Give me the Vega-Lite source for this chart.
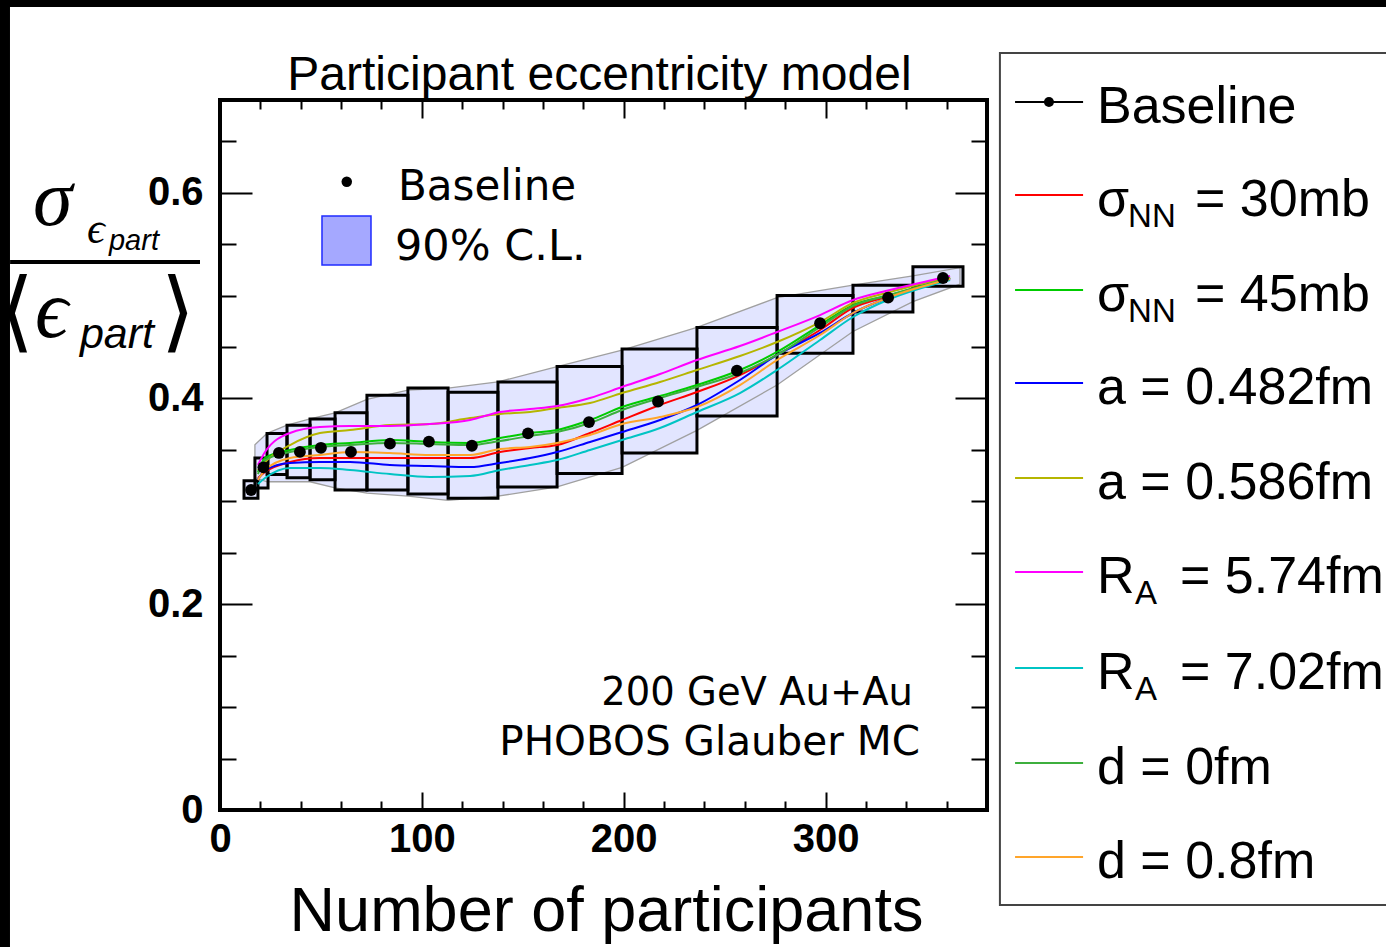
{
"$schema": "https://vega.github.io/schema/vega-lite/v6.json",
"width": 767, "height": 710,
"autosize": {"type": "none"},
"padding": {"left": 220, "top": 100, "right": 399, "bottom": 137},
"background": "white",
"config": {
  "view": {"stroke": "black", "strokeWidth": 4},
  "axis": {"domain": false, "grid": false, "tickColor": "black", "tickWidth": 2, "labelColor": "black", "labelFont": "Liberation Sans", "labelFontWeight": "bold", "labelFontSize": 40, "labelFlush": false, "labelOverlap": false, "titleColor": "black", "zindex": 1}
},
"datasets": {
  "one": [{}],
  "points": [
    {"npart": 15.4, "ratio": 0.311}, {"npart": 21.5, "ratio": 0.333}, {"npart": 29.2, "ratio": 0.347}, {"npart": 39.6, "ratio": 0.348},
    {"npart": 50.0, "ratio": 0.352}, {"npart": 64.9, "ratio": 0.348}, {"npart": 84.2, "ratio": 0.356}, {"npart": 103.5, "ratio": 0.358},
    {"npart": 124.8, "ratio": 0.354}, {"npart": 152.6, "ratio": 0.366}, {"npart": 182.8, "ratio": 0.377}, {"npart": 217.0, "ratio": 0.397},
    {"npart": 256.1, "ratio": 0.427}, {"npart": 297.3, "ratio": 0.473}, {"npart": 331.0, "ratio": 0.498}, {"npart": 358.2, "ratio": 0.517}
  ],
  "boxes": [
    {"n1": 11.9, "n2": 18.8, "lo": 0.303, "hi": 0.320}, {"n1": 17.3, "n2": 23.8, "lo": 0.313, "hi": 0.342},
    {"n1": 23.3, "n2": 33.2, "lo": 0.326, "hi": 0.366}, {"n1": 33.2, "n2": 44.6, "lo": 0.323, "hi": 0.374},
    {"n1": 44.6, "n2": 57.0, "lo": 0.321, "hi": 0.380}, {"n1": 57.0, "n2": 72.8, "lo": 0.311, "hi": 0.386},
    {"n1": 72.8, "n2": 93.1, "lo": 0.311, "hi": 0.403}, {"n1": 93.1, "n2": 113.0, "lo": 0.307, "hi": 0.410},
    {"n1": 113.0, "n2": 137.7, "lo": 0.303, "hi": 0.406}, {"n1": 137.7, "n2": 167.0, "lo": 0.314, "hi": 0.416},
    {"n1": 167.0, "n2": 199.2, "lo": 0.327, "hi": 0.431}, {"n1": 199.2, "n2": 236.3, "lo": 0.347, "hi": 0.448},
    {"n1": 236.3, "n2": 276.0, "lo": 0.383, "hi": 0.469}, {"n1": 276.0, "n2": 313.6, "lo": 0.444, "hi": 0.500},
    {"n1": 313.6, "n2": 343.3, "lo": 0.484, "hi": 0.510}, {"n1": 343.3, "n2": 368.1, "lo": 0.509, "hi": 0.528}
  ],
  "band": [
    {"npart": 17.3, "lo": 0.323, "hi": 0.355}, {"npart": 23.3, "lo": 0.319, "hi": 0.366}, {"npart": 33.2, "lo": 0.319, "hi": 0.374},
    {"npart": 44.6, "lo": 0.319, "hi": 0.380}, {"npart": 57.0, "lo": 0.313, "hi": 0.386}, {"npart": 72.8, "lo": 0.308, "hi": 0.399},
    {"npart": 93.1, "lo": 0.305, "hi": 0.408}, {"npart": 113.0, "lo": 0.301, "hi": 0.410}, {"npart": 137.7, "lo": 0.305, "hi": 0.416},
    {"npart": 167.0, "lo": 0.314, "hi": 0.431}, {"npart": 199.2, "lo": 0.333, "hi": 0.447}, {"npart": 236.3, "lo": 0.369, "hi": 0.469},
    {"npart": 276.0, "lo": 0.413, "hi": 0.498}, {"npart": 313.6, "lo": 0.465, "hi": 0.510}, {"npart": 343.3, "lo": 0.494, "hi": 0.519},
    {"npart": 366.6, "lo": 0.511, "hi": 0.527}
  ],
  "models": [
    {"npart": 18.8, "sigma30": 0.3226, "sigma45": 0.3285, "a482": 0.3207, "a586": 0.3304, "RA574": 0.3353, "RA702": 0.3168, "d0": 0.3265, "d08": 0.3207},
    {"npart": 22.3, "sigma30": 0.3285, "sigma45": 0.3421, "a482": 0.3304, "a586": 0.3382, "RA574": 0.3479, "RA702": 0.3226, "d0": 0.3401, "d08": 0.3304},
    {"npart": 34.7, "sigma30": 0.3382, "sigma45": 0.3499, "a482": 0.3372, "a586": 0.3547, "RA574": 0.3664, "RA702": 0.3324, "d0": 0.3479, "d08": 0.3421},
    {"npart": 49.5, "sigma30": 0.3421, "sigma45": 0.3547, "a482": 0.3382, "a586": 0.3664, "RA574": 0.3722, "RA702": 0.3324, "d0": 0.3528, "d08": 0.3450},
    {"npart": 64.4, "sigma30": 0.3421, "sigma45": 0.3567, "a482": 0.3382, "a586": 0.3693, "RA574": 0.3732, "RA702": 0.3304, "d0": 0.3547, "d08": 0.3479},
    {"npart": 84.2, "sigma30": 0.3421, "sigma45": 0.3596, "a482": 0.3353, "a586": 0.3741, "RA574": 0.3732, "RA702": 0.3265, "d0": 0.3567, "d08": 0.3469},
    {"npart": 104.0, "sigma30": 0.3421, "sigma45": 0.3576, "a482": 0.3343, "a586": 0.3751, "RA574": 0.3751, "RA702": 0.3236, "d0": 0.3557, "d08": 0.3450},
    {"npart": 123.9, "sigma30": 0.3421, "sigma45": 0.3567, "a482": 0.3333, "a586": 0.3809, "RA574": 0.3790, "RA702": 0.3246, "d0": 0.3547, "d08": 0.3450},
    {"npart": 138.7, "sigma30": 0.3479, "sigma45": 0.3615, "a482": 0.3372, "a586": 0.3848, "RA574": 0.3868, "RA702": 0.3304, "d0": 0.3586, "d08": 0.3508},
    {"npart": 153.6, "sigma30": 0.3518, "sigma45": 0.3664, "a482": 0.3421, "a586": 0.3868, "RA574": 0.3897, "RA702": 0.3353, "d0": 0.3635, "d08": 0.3528},
    {"npart": 167.0, "sigma30": 0.3547, "sigma45": 0.3693, "a482": 0.3479, "a586": 0.3907, "RA574": 0.3926, "RA702": 0.3401, "d0": 0.3673, "d08": 0.3567},
    {"npart": 183.3, "sigma30": 0.3664, "sigma45": 0.3790, "a482": 0.3576, "a586": 0.3955, "RA574": 0.4004, "RA702": 0.3499, "d0": 0.3761, "d08": 0.3644},
    {"npart": 199.2, "sigma30": 0.3790, "sigma45": 0.3916, "a482": 0.3673, "a586": 0.4052, "RA574": 0.4111, "RA702": 0.3596, "d0": 0.3887, "d08": 0.3751},
    {"npart": 218.0, "sigma30": 0.3936, "sigma45": 0.4023, "a482": 0.3790, "a586": 0.4159, "RA574": 0.4237, "RA702": 0.3712, "d0": 0.4004, "d08": 0.3819},
    {"npart": 236.3, "sigma30": 0.4062, "sigma45": 0.4130, "a482": 0.3936, "a586": 0.4276, "RA574": 0.4373, "RA702": 0.3868, "d0": 0.4111, "d08": 0.3916},
    {"npart": 257.6, "sigma30": 0.4227, "sigma45": 0.4276, "a482": 0.4179, "a586": 0.4412, "RA574": 0.4509, "RA702": 0.4052, "d0": 0.4247, "d08": 0.4130},
    {"npart": 276.0, "sigma30": 0.4422, "sigma45": 0.4451, "a482": 0.4422, "a586": 0.4548, "RA574": 0.4645, "RA702": 0.4276, "d0": 0.4422, "d08": 0.4373},
    {"npart": 297.3, "sigma30": 0.4665, "sigma45": 0.4713, "a482": 0.4636, "a586": 0.4742, "RA574": 0.4810, "RA702": 0.4568, "d0": 0.4694, "d08": 0.4616},
    {"npart": 313.6, "sigma30": 0.4879, "sigma45": 0.4907, "a482": 0.4830, "a586": 0.4927, "RA574": 0.4956, "RA702": 0.4791, "d0": 0.4898, "d08": 0.4830},
    {"npart": 331.9, "sigma30": 0.4995, "sigma45": 0.5005, "a482": 0.4985, "a586": 0.5034, "RA574": 0.5053, "RA702": 0.4966, "d0": 0.5005, "d08": 0.4985},
    {"npart": 361.7, "sigma30": 0.5170, "sigma45": 0.5170, "a482": 0.5160, "a586": 0.5180, "RA574": 0.5190, "RA702": 0.5151, "d0": 0.5170, "d08": 0.5160}
  ]
},
"resolve": {"axis": {"x": "independent", "y": "independent"}},
"layer": [
  {"data": {"name": "band"}, "mark": {"type": "area", "color": "#e2e5ff", "opacity": 1},
   "encoding": {
     "x": {"field": "npart", "type": "quantitative", "scale": {"domain": [0, 380], "nice": false, "zero": false},
           "axis": {"orient": "bottom", "values": [0, 100, 200, 300], "tickSize": -18, "labelPadding": 27, "format": "d",
                    "title": "Number of participants", "titleFont": "Liberation Sans", "titleFontSize": 63, "titleFontWeight": "normal",
                    "titleBaseline": "alphabetic", "titleY": 120, "titleX": 386, "titleAlign": "center"}},
     "y": {"field": "hi", "type": "quantitative", "scale": {"domain": [0, 0.69], "nice": false, "zero": false},
           "axis": {"orient": "left", "values": [0, 0.2, 0.4, 0.6], "tickSize": -32, "labelPadding": 49, "format": ".1~f", "title": null}},
     "y2": {"field": "lo"}}},
  {"data": {"name": "boxes"}, "mark": {"type": "rect", "color": "#e2e5ff", "opacity": 1},
   "encoding": {
     "x": {"field": "n1", "type": "quantitative", "scale": {"domain": [0, 380], "nice": false, "zero": false},
           "axis": {"orient": "bottom", "values": [20, 40, 60, 80, 120, 140, 160, 180, 220, 240, 260, 280, 320, 340, 360], "tickSize": -9, "labels": false, "title": null}},
     "x2": {"field": "n2"},
     "y": {"field": "hi", "type": "quantitative", "scale": {"domain": [0, 0.69], "nice": false, "zero": false},
           "axis": {"orient": "left", "values": [0.05, 0.1, 0.15, 0.25, 0.3, 0.35, 0.45, 0.5, 0.55, 0.65], "tickSize": -16, "labels": false, "title": null}},
     "y2": {"field": "lo"}}},
  {"data": {"name": "band"}, "mark": {"type": "area", "fillOpacity": 0, "stroke": "#a0a0a0", "strokeWidth": 1.3},
   "encoding": {
     "x": {"field": "npart", "type": "quantitative", "scale": {"domain": [0, 380], "nice": false, "zero": false},
           "axis": {"orient": "top", "values": [0, 100, 200, 300], "tickSize": -18, "labels": false, "title": null}},
     "y": {"field": "hi", "type": "quantitative", "scale": {"domain": [0, 0.69], "nice": false, "zero": false},
           "axis": {"orient": "right", "values": [0, 0.2, 0.4, 0.6], "tickSize": -32, "labels": false, "title": null}},
     "y2": {"field": "lo"}}},
  {"data": {"name": "boxes"}, "mark": {"type": "rect", "fillOpacity": 0, "stroke": "black", "strokeWidth": 3},
   "encoding": {
     "x": {"field": "n1", "type": "quantitative", "scale": {"domain": [0, 380], "nice": false, "zero": false},
           "axis": {"orient": "top", "values": [20, 40, 60, 80, 120, 140, 160, 180, 220, 240, 260, 280, 320, 340, 360], "tickSize": -9, "labels": false, "title": null}},
     "x2": {"field": "n2"},
     "y": {"field": "hi", "type": "quantitative", "scale": {"domain": [0, 0.69], "nice": false, "zero": false},
           "axis": {"orient": "right", "values": [0.05, 0.1, 0.15, 0.25, 0.3, 0.35, 0.45, 0.5, 0.55, 0.65], "tickSize": -16, "labels": false, "title": null}},
     "y2": {"field": "lo"}}},
  {"data": {"name": "models"},
   "transform": [{"fold": ["sigma30", "sigma45", "a482", "a586", "RA574", "RA702", "d0", "d08"], "as": ["model", "ratio"]}],
   "mark": {"type": "line", "strokeWidth": 2, "interpolate": "monotone"},
   "encoding": {
     "x": {"field": "npart", "type": "quantitative", "scale": {"domain": [0, 380], "nice": false, "zero": false}, "axis": null},
     "y": {"field": "ratio", "type": "quantitative", "scale": {"domain": [0, 0.69], "nice": false, "zero": false}, "axis": null},
     "color": {"field": "model", "type": "nominal", "legend": null,
               "scale": {"domain": ["sigma30", "sigma45", "a482", "a586", "RA574", "RA702", "d0", "d08"],
                         "range": ["#ff0000", "#00cc00", "#0000ff", "#b5b500", "#ff00ff", "#00c4c4", "#3daf3d", "#ffa52a"]}}}},
  {"data": {"name": "points"}, "mark": {"type": "point", "filled": true, "color": "black", "opacity": 1, "size": 140},
   "encoding": {
     "x": {"field": "npart", "type": "quantitative", "scale": {"domain": [0, 380], "nice": false, "zero": false}, "axis": null},
     "y": {"field": "ratio", "type": "quantitative", "scale": {"domain": [0, 0.69], "nice": false, "zero": false}, "axis": null}}},

  {"data": {"name": "one"}, "mark": {"type": "rect", "color": "black", "opacity": 1}, "encoding": {"x": {"datum": -150, "type": "quantitative", "axis": null}, "x2": {"datum": 700}, "y": {"datum": 0.7804, "type": "quantitative", "axis": null}, "y2": {"datum": 0.85}}},
  {"data": {"name": "one"}, "mark": {"type": "rect", "color": "black", "opacity": 1}, "encoding": {"x": {"datum": -125, "type": "quantitative", "axis": null}, "x2": {"datum": -104.05}, "y": {"datum": -0.3, "type": "quantitative", "axis": null}, "y2": {"datum": 0.85}}},

  {"data": {"name": "one"}, "mark": {"type": "text", "text": "Participant eccentricity model", "align": "center", "baseline": "alphabetic", "font": "Liberation Sans", "fontSize": 48, "color": "black"}, "encoding": {"x": {"datum": 188.0, "type": "quantitative", "axis": null}, "y": {"datum": 0.6997, "type": "quantitative", "axis": null}}},

  {"data": {"name": "one"}, "mark": {"type": "text", "text": "σ", "align": "left", "baseline": "alphabetic", "font": "Liberation Serif", "fontStyle": "italic", "fontSize": 80, "color": "black"}, "encoding": {"x": {"datum": -92.65, "type": "quantitative", "axis": null}, "y": {"datum": 0.5685, "type": "quantitative", "axis": null}}},
  {"data": {"name": "one"}, "mark": {"type": "text", "text": "ϵ", "align": "left", "baseline": "alphabetic", "font": "Liberation Serif", "fontStyle": "italic", "fontSize": 44, "color": "black"}, "encoding": {"x": {"datum": -65.9, "type": "quantitative", "axis": null}, "y": {"datum": 0.551, "type": "quantitative", "axis": null}}},
  {"data": {"name": "one"}, "mark": {"type": "text", "text": "part", "align": "left", "baseline": "alphabetic", "font": "Liberation Sans", "fontStyle": "italic", "fontSize": 29, "color": "black"}, "encoding": {"x": {"datum": -55.0, "type": "quantitative", "axis": null}, "y": {"datum": 0.5442, "type": "quantitative", "axis": null}}},
  {"data": {"name": "one"}, "mark": {"type": "rule", "color": "black", "strokeWidth": 4}, "encoding": {"x": {"datum": -104.0, "type": "quantitative", "axis": null}, "x2": {"datum": -9.91}, "y": {"datum": 0.5326, "type": "quantitative", "axis": null}}},
  {"data": {"name": "one"}, "mark": {"type": "text", "text": "⟨", "align": "center", "baseline": "middle", "font": "DejaVu Sans ExtraLight, DejaVu Sans", "fontSize": 88, "color": "black"}, "encoding": {"x": {"datum": -100.6, "type": "quantitative", "axis": null}, "y": {"datum": 0.481, "type": "quantitative", "axis": null}}},
  {"data": {"name": "one"}, "mark": {"type": "text", "text": "ϵ", "align": "left", "baseline": "alphabetic", "font": "Liberation Serif", "fontStyle": "italic", "fontSize": 82, "color": "black"}, "encoding": {"x": {"datum": -91.66, "type": "quantitative", "axis": null}, "y": {"datum": 0.4597, "type": "quantitative", "axis": null}}},
  {"data": {"name": "one"}, "mark": {"type": "text", "text": "part", "align": "left", "baseline": "alphabetic", "font": "Liberation Sans", "fontStyle": "italic", "fontSize": 43, "color": "black"}, "encoding": {"x": {"datum": -69.4, "type": "quantitative", "axis": null}, "y": {"datum": 0.449, "type": "quantitative", "axis": null}}},
  {"data": {"name": "one"}, "mark": {"type": "text", "text": "⟩", "align": "center", "baseline": "middle", "font": "DejaVu Sans ExtraLight, DejaVu Sans", "fontSize": 88, "color": "black"}, "encoding": {"x": {"datum": -20.8, "type": "quantitative", "axis": null}, "y": {"datum": 0.481, "type": "quantitative", "axis": null}}},

  {"data": {"name": "one"}, "mark": {"type": "point", "filled": true, "color": "black", "opacity": 1, "size": 110}, "encoding": {"x": {"datum": 62.8, "type": "quantitative", "axis": null}, "y": {"datum": 0.6106, "type": "quantitative", "axis": null}}},
  {"data": {"name": "one"}, "mark": {"type": "text", "text": "Baseline", "align": "left", "baseline": "alphabetic", "font": "DejaVu Sans", "fontSize": 42, "color": "black"}, "encoding": {"x": {"datum": 88.2, "type": "quantitative", "axis": null}, "y": {"datum": 0.5928, "type": "quantitative", "axis": null}}},
  {"data": {"name": "one"}, "mark": {"type": "rect", "fill": "#a5a8ff", "stroke": "#1f2bff", "strokeWidth": 1.5, "opacity": 1}, "encoding": {"x": {"datum": 50.53, "type": "quantitative", "axis": null}, "x2": {"datum": 74.81}, "y": {"datum": 0.5773, "type": "quantitative", "axis": null}, "y2": {"datum": 0.5296}}},
  {"data": {"name": "one"}, "mark": {"type": "text", "text": "90% C.L.", "align": "left", "baseline": "alphabetic", "font": "DejaVu Sans", "fontSize": 43, "color": "black"}, "encoding": {"x": {"datum": 86.7, "type": "quantitative", "axis": null}, "y": {"datum": 0.5345, "type": "quantitative", "axis": null}}},
  {"data": {"name": "one"}, "mark": {"type": "text", "text": "200 GeV Au+Au", "align": "right", "baseline": "alphabetic", "font": "DejaVu Sans", "fontSize": 38.5, "color": "black"}, "encoding": {"x": {"datum": 343.3, "type": "quantitative", "axis": null}, "y": {"datum": 0.102, "type": "quantitative", "axis": null}}},
  {"data": {"name": "one"}, "mark": {"type": "text", "text": "PHOBOS Glauber MC", "align": "right", "baseline": "alphabetic", "font": "DejaVu Sans", "fontSize": 40.5, "color": "black"}, "encoding": {"x": {"datum": 346.8, "type": "quantitative", "axis": null}, "y": {"datum": 0.0534, "type": "quantitative", "axis": null}}},

  {"data": {"name": "one"}, "mark": {"type": "rect", "fill": "white", "stroke": "#444444", "strokeWidth": 2, "opacity": 1}, "encoding": {"x": {"datum": 386.4, "type": "quantitative", "axis": null}, "x2": {"datum": 600}, "y": {"datum": 0.7357, "type": "quantitative", "axis": null}, "y2": {"datum": -0.0923}}},
  {"data": {"name": "one"}, "mark": {"type": "rule", "color": "black", "strokeWidth": 2}, "encoding": {"x": {"datum": 393.9, "type": "quantitative", "axis": null}, "x2": {"datum": 427.6}, "y": {"datum": 0.688, "type": "quantitative", "axis": null}}},
  {"data": {"name": "one"}, "mark": {"type": "point", "filled": true, "color": "black", "opacity": 1, "size": 100}, "encoding": {"x": {"datum": 410.7, "type": "quantitative", "axis": null}, "y": {"datum": 0.688, "type": "quantitative", "axis": null}}},
  {"data": {"name": "one"}, "mark": {"type": "rule", "color": "#ff0000", "strokeWidth": 2}, "encoding": {"x": {"datum": 393.9, "type": "quantitative", "axis": null}, "x2": {"datum": 427.6}, "y": {"datum": 0.5977, "type": "quantitative", "axis": null}}},
  {"data": {"name": "one"}, "mark": {"type": "rule", "color": "#00cc00", "strokeWidth": 2}, "encoding": {"x": {"datum": 393.9, "type": "quantitative", "axis": null}, "x2": {"datum": 427.6}, "y": {"datum": 0.5053, "type": "quantitative", "axis": null}}},
  {"data": {"name": "one"}, "mark": {"type": "rule", "color": "#0000ff", "strokeWidth": 2}, "encoding": {"x": {"datum": 393.9, "type": "quantitative", "axis": null}, "x2": {"datum": 427.6}, "y": {"datum": 0.415, "type": "quantitative", "axis": null}}},
  {"data": {"name": "one"}, "mark": {"type": "rule", "color": "#b5b500", "strokeWidth": 2}, "encoding": {"x": {"datum": 393.9, "type": "quantitative", "axis": null}, "x2": {"datum": 427.6}, "y": {"datum": 0.3226, "type": "quantitative", "axis": null}}},
  {"data": {"name": "one"}, "mark": {"type": "rule", "color": "#ff00ff", "strokeWidth": 2}, "encoding": {"x": {"datum": 393.9, "type": "quantitative", "axis": null}, "x2": {"datum": 427.6}, "y": {"datum": 0.2313, "type": "quantitative", "axis": null}}},
  {"data": {"name": "one"}, "mark": {"type": "rule", "color": "#00c4c4", "strokeWidth": 2}, "encoding": {"x": {"datum": 393.9, "type": "quantitative", "axis": null}, "x2": {"datum": 427.6}, "y": {"datum": 0.138, "type": "quantitative", "axis": null}}},
  {"data": {"name": "one"}, "mark": {"type": "rule", "color": "#3daf3d", "strokeWidth": 2}, "encoding": {"x": {"datum": 393.9, "type": "quantitative", "axis": null}, "x2": {"datum": 427.6}, "y": {"datum": 0.0457, "type": "quantitative", "axis": null}}},
  {"data": {"name": "one"}, "mark": {"type": "rule", "color": "#ffa52a", "strokeWidth": 2}, "encoding": {"x": {"datum": 393.9, "type": "quantitative", "axis": null}, "x2": {"datum": 427.6}, "y": {"datum": -0.0457, "type": "quantitative", "axis": null}}},

  {"data": {"name": "one"}, "mark": {"type": "text", "text": "Baseline", "align": "left", "baseline": "alphabetic", "font": "Liberation Sans", "fontSize": 52, "color": "black"}, "encoding": {"x": {"datum": 434.5, "type": "quantitative", "axis": null}, "y": {"datum": 0.6676, "type": "quantitative", "axis": null}}},
  {"data": {"name": "one"}, "mark": {"type": "text", "text": "σ", "align": "left", "baseline": "alphabetic", "font": "Liberation Sans", "fontSize": 52, "color": "black"}, "encoding": {"x": {"datum": 434.5, "type": "quantitative", "axis": null}, "y": {"datum": 0.5773, "type": "quantitative", "axis": null}}},
  {"data": {"name": "one"}, "mark": {"type": "text", "text": "NN", "align": "left", "baseline": "alphabetic", "font": "Liberation Sans", "fontSize": 33, "color": "black"}, "encoding": {"x": {"datum": 449.9, "type": "quantitative", "axis": null}, "y": {"datum": 0.5666, "type": "quantitative", "axis": null}}},
  {"data": {"name": "one"}, "mark": {"type": "text", "text": "= 30mb", "align": "left", "baseline": "alphabetic", "font": "Liberation Sans", "fontSize": 52, "color": "black"}, "encoding": {"x": {"datum": 483.05, "type": "quantitative", "axis": null}, "y": {"datum": 0.5773, "type": "quantitative", "axis": null}}},
  {"data": {"name": "one"}, "mark": {"type": "text", "text": "σ", "align": "left", "baseline": "alphabetic", "font": "Liberation Sans", "fontSize": 52, "color": "black"}, "encoding": {"x": {"datum": 434.5, "type": "quantitative", "axis": null}, "y": {"datum": 0.4849, "type": "quantitative", "axis": null}}},
  {"data": {"name": "one"}, "mark": {"type": "text", "text": "NN", "align": "left", "baseline": "alphabetic", "font": "Liberation Sans", "fontSize": 33, "color": "black"}, "encoding": {"x": {"datum": 449.9, "type": "quantitative", "axis": null}, "y": {"datum": 0.4742, "type": "quantitative", "axis": null}}},
  {"data": {"name": "one"}, "mark": {"type": "text", "text": "= 45mb", "align": "left", "baseline": "alphabetic", "font": "Liberation Sans", "fontSize": 52, "color": "black"}, "encoding": {"x": {"datum": 483.05, "type": "quantitative", "axis": null}, "y": {"datum": 0.4849, "type": "quantitative", "axis": null}}},
  {"data": {"name": "one"}, "mark": {"type": "text", "text": "a = 0.482fm", "align": "left", "baseline": "alphabetic", "font": "Liberation Sans", "fontSize": 52, "color": "black"}, "encoding": {"x": {"datum": 434.5, "type": "quantitative", "axis": null}, "y": {"datum": 0.3946, "type": "quantitative", "axis": null}}},
  {"data": {"name": "one"}, "mark": {"type": "text", "text": "a = 0.586fm", "align": "left", "baseline": "alphabetic", "font": "Liberation Sans", "fontSize": 52, "color": "black"}, "encoding": {"x": {"datum": 434.5, "type": "quantitative", "axis": null}, "y": {"datum": 0.3022, "type": "quantitative", "axis": null}}},
  {"data": {"name": "one"}, "mark": {"type": "text", "text": "R", "align": "left", "baseline": "alphabetic", "font": "Liberation Sans", "fontSize": 52, "color": "black"}, "encoding": {"x": {"datum": 434.5, "type": "quantitative", "axis": null}, "y": {"datum": 0.2109, "type": "quantitative", "axis": null}}},
  {"data": {"name": "one"}, "mark": {"type": "text", "text": "A", "align": "left", "baseline": "alphabetic", "font": "Liberation Sans", "fontSize": 33, "color": "black"}, "encoding": {"x": {"datum": 453.3, "type": "quantitative", "axis": null}, "y": {"datum": 0.2002, "type": "quantitative", "axis": null}}},
  {"data": {"name": "one"}, "mark": {"type": "text", "text": "= 5.74fm", "align": "left", "baseline": "alphabetic", "font": "Liberation Sans", "fontSize": 52, "color": "black"}, "encoding": {"x": {"datum": 475.6, "type": "quantitative", "axis": null}, "y": {"datum": 0.2109, "type": "quantitative", "axis": null}}},
  {"data": {"name": "one"}, "mark": {"type": "text", "text": "R", "align": "left", "baseline": "alphabetic", "font": "Liberation Sans", "fontSize": 52, "color": "black"}, "encoding": {"x": {"datum": 434.5, "type": "quantitative", "axis": null}, "y": {"datum": 0.1176, "type": "quantitative", "axis": null}}},
  {"data": {"name": "one"}, "mark": {"type": "text", "text": "A", "align": "left", "baseline": "alphabetic", "font": "Liberation Sans", "fontSize": 33, "color": "black"}, "encoding": {"x": {"datum": 453.3, "type": "quantitative", "axis": null}, "y": {"datum": 0.1069, "type": "quantitative", "axis": null}}},
  {"data": {"name": "one"}, "mark": {"type": "text", "text": "= 7.02fm", "align": "left", "baseline": "alphabetic", "font": "Liberation Sans", "fontSize": 52, "color": "black"}, "encoding": {"x": {"datum": 475.6, "type": "quantitative", "axis": null}, "y": {"datum": 0.1176, "type": "quantitative", "axis": null}}},
  {"data": {"name": "one"}, "mark": {"type": "text", "text": "d = 0fm", "align": "left", "baseline": "alphabetic", "font": "Liberation Sans", "fontSize": 52, "color": "black"}, "encoding": {"x": {"datum": 434.5, "type": "quantitative", "axis": null}, "y": {"datum": 0.0253, "type": "quantitative", "axis": null}}},
  {"data": {"name": "one"}, "mark": {"type": "text", "text": "d = 0.8fm", "align": "left", "baseline": "alphabetic", "font": "Liberation Sans", "fontSize": 52, "color": "black"}, "encoding": {"x": {"datum": 434.5, "type": "quantitative", "axis": null}, "y": {"datum": -0.0661, "type": "quantitative", "axis": null}}}
]
}
